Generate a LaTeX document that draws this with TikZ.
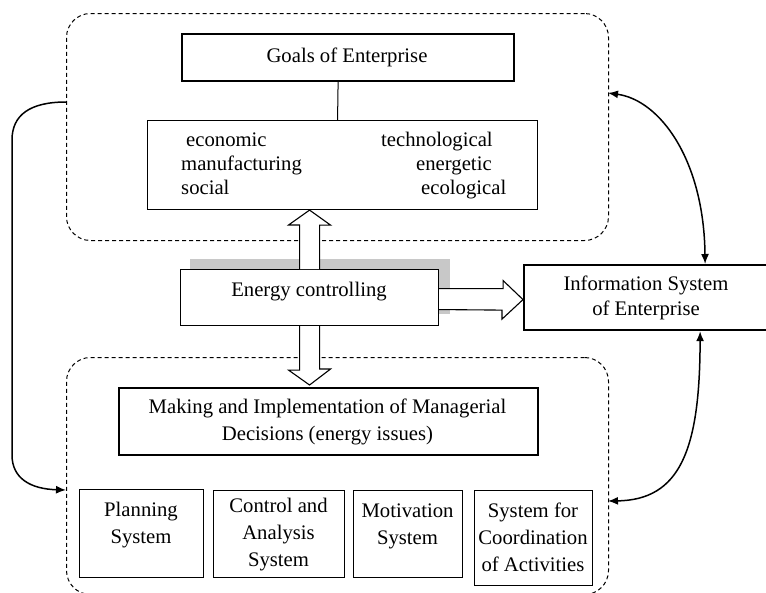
\documentclass[tikz,border=0pt]{standalone}
\usepackage{fontspec}
\setmainfont{Liberation Serif}
\usetikzlibrary{arrows.meta,calc}
\newcommand{\stackt}[1]{\begin{tabular}[t]{@{}c@{}}#1\end{tabular}}
\definecolor{shadowgray}{RGB}{200,200,200}
\begin{document}
\begin{tikzpicture}[x=1pt,y=-1pt,
  font=\fontsize{20.7}{27}\selectfont,
  box/.style={draw, line width=1.1pt, fill=white, anchor=north west, inner sep=0pt},
  boldbox/.style={box, line width=2.2pt},
  group/.style={draw, dash pattern=on 4pt off 3pt, line width=1pt, rounded corners=24pt, anchor=north west, inner sep=0pt},
  txt/.style={inner sep=0pt, anchor=base},
  ltxt/.style={inner sep=0pt, anchor=base west},
  hollow/.style={draw, line width=1.1pt, fill=white, line join=miter},
  link/.style={line width=1.5pt, -{Latex[length=10pt,width=8pt]}},
  biglink/.style={line width=1.5pt, {Latex[length=10pt,width=8pt]}-{Latex[length=10pt,width=8pt]}},
]
\useasboundingbox (0,0) rectangle (766,592);
\clip (0,0) rectangle (766,592);

% dashed groupings
\node[group, minimum width=542pt, minimum height=227pt] (goalsgrp) at (66,13) {};
\node[group, minimum width=542pt, minimum height=237pt] (mgmtgrp) at (66,357) {};

% goals
\node[boldbox, minimum width=332pt, minimum height=47pt] (goals) at (181,33) {};
\node[txt] (goalst) at (347,62) {Goals of Enterprise};
\node[box, minimum width=390pt, minimum height=89pt] (goalslist) at (147,120) {};
\draw[line width=1pt] ($(goals.south)+(-10,0)$) -- ($(goalslist.north)+(-5,0)$);
\node[ltxt] (g1) at (186,146) {economic};
\node[ltxt] (g2) at (181,170) {manufacturing};
\node[ltxt] (g3) at (181,194) {social};
\node[ltxt] (g4) at (381,146) {technological};
\node[ltxt] (g5) at (416,170) {energetic};
\node[ltxt] (g6) at (421,194) {ecological};

% energy controlling with its shadow
\node[box, draw=none, fill=none, minimum width=258pt, minimum height=56pt] (energy) at (180,269) {};
\fill[shadowgray] ($(energy.north west)+(10,-10)$) rectangle ($(energy.south east)+(11,-12)$);
\node[box, minimum width=258pt, minimum height=56pt] at (180,269) {};
\node[txt] (energyt) at (309,296) {Energy controlling};

% information system
\node[boldbox, minimum width=246pt, minimum height=65pt] (info) at (523,264) {};
\node[txt, font=\fontsize{20.7}{25}\selectfont] (infot) at (646,290) {\stackt{Information System\\of Enterprise}};

% managerial decisions
\node[boldbox, minimum width=419pt, minimum height=67pt] (mgmt) at (118,387) {};
\node[txt] (mgmtt) at (327.5,413) {\stackt{Making and Implementation of Managerial\\Decisions (energy issues)}};

% subsystems
\node[box, minimum width=124pt, minimum height=88pt] (plan) at (79,489) {};
\node[box, minimum width=131pt, minimum height=87pt] (ctrl) at (213,490) {};
\node[box, minimum width=109pt, minimum height=87pt] (motiv) at (353,490) {};
\node[box, minimum width=118pt, minimum height=95pt] (coord) at (474,490) {};
\node[txt] (plant) at (141,516) {\stackt{Planning\\System}};
\node[txt] (ctrlt) at (278.5,512) {\stackt{Control and\\Analysis\\System}};
\node[txt] (motivt) at (407.5,517) {\stackt{Motivation\\System}};
\node[txt] (coordt) at (533,517) {\stackt{System for\\Coordination\\of Activities}};

% hollow block arrows
\draw[hollow] ([xshift=-10pt]energy.north) -- ++(0,-44) -- ++(-11,0)
  -- (energy.north |- goalslist.south) -- ++(21,15) -- ++(-11,0)
  -- ([xshift=10pt]energy.north);
\draw[hollow] ([xshift=-10pt]energy.south) -- ++(0,44) -- ++(-11,0)
  -- ($(energy.south |- mgmt.north)+(0,-2)$) -- ++(21,-16) -- ++(-11,0)
  -- ([xshift=10pt]energy.south);
\draw[hollow] ($(energy.east)+(0,-9)$) -- ++(64,0) -- ++(0,-8)
  -- ($(info.west)+(0,2)$) -- ++(-21,19.5) -- ++(0,-9)
  -- ($(energy.east)+(0,12)$);

% feedback connectors
\coordinate (lfrom) at (66,102);
\coordinate (lto) at (66,490);
\coordinate (rtop) at (608,93);
\coordinate (rbot) at (608,501);
\draw[link] (lfrom) .. controls (30,102) and (12,115) .. (12,140)
  -- (12,455) .. controls (12,478) and (30,489) .. (lto);
\draw[biglink] (rtop) .. controls (660,100) and (704,160) .. ($(info.north)+(58,0)$);
\draw[biglink] ($(info.south)+(53,0)$) .. controls (700,450) and (680,500) .. (rbot);
\end{tikzpicture}
\end{document}
